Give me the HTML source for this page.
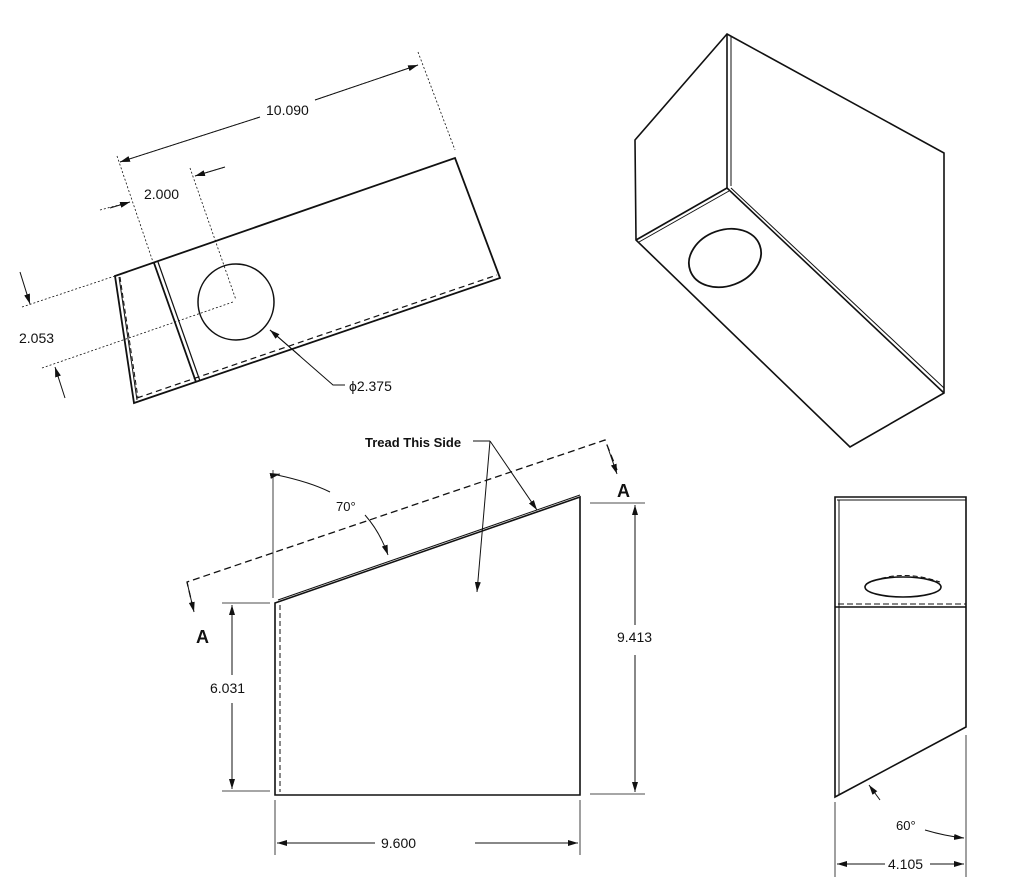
<!DOCTYPE html>
<html><head><meta charset="utf-8"><style>
html,body{margin:0;padding:0;background:#fff}
svg{display:block}
text{font-family:"Liberation Sans",sans-serif;fill:#111}
</style></head><body>
<svg width="1024" height="895" viewBox="0 0 1024 895" xmlns="http://www.w3.org/2000/svg">
<defs>
<marker id="ar" viewBox="0 0 10 6" refX="10" refY="3" markerWidth="10" markerHeight="6" orient="auto" markerUnits="userSpaceOnUse"><path d="M0,0 L10,3 L0,6z" fill="#111"/></marker>
</defs>
<g fill="none" stroke="#111">
<!-- Top-left flat view -->
<g stroke-width="1.8">
<path d="M115,276 L455,158 L500,278 L134,403 Z"/>
<line x1="154" y1="263" x2="196" y2="382"/>
<line x1="158" y1="262" x2="200" y2="381" stroke-width="1.2"/>
<line x1="119" y1="277" x2="137" y2="400" stroke-width="1"/>
</g>
<path d="M137,398 L497,275" stroke-width="1.2" stroke-dasharray="6,4"/>
<line x1="120" y1="277" x2="138" y2="398" stroke-width="1" stroke-dasharray="5,3"/>
<circle cx="236" cy="302" r="38" stroke-width="1.5"/>
<g stroke-width="0.8" stroke-dasharray="2,2">
<line x1="117" y1="156" x2="153" y2="262"/>
<line x1="418" y1="52" x2="455" y2="150"/>
<line x1="120" y1="162" x2="260" y2="117"/>
<line x1="315" y1="100" x2="418" y2="65"/>
<line x1="190" y1="168" x2="236" y2="300"/>
<line x1="100" y1="210" x2="130" y2="202"/>
<line x1="195" y1="176" x2="225" y2="167"/>
<line x1="22" y1="307" x2="115" y2="276"/>
<line x1="42" y1="368" x2="233" y2="302"/>
</g>
<g stroke-width="1">
<line x1="260" y1="117" x2="120" y2="162" marker-end="url(#ar)"/>
<line x1="315" y1="100" x2="418" y2="65" marker-end="url(#ar)"/>
<line x1="110" y1="208" x2="130" y2="202" marker-end="url(#ar)"/>
<line x1="225" y1="167" x2="195" y2="176" marker-end="url(#ar)"/>
<line x1="20" y1="272" x2="30" y2="304" marker-end="url(#ar)"/>
<line x1="65" y1="398" x2="55" y2="367" marker-end="url(#ar)"/>
<polyline points="345,385 333,385 270,330" />
<line x1="300" y1="356" x2="270" y2="330" marker-end="url(#ar)"/>
</g>
<!-- Isometric view -->
<g stroke-width="1.6">
<path d="M727,34 L944,153 L944,393 L850,447 L636,240 L635,140 Z"/>
<line x1="727" y1="34" x2="727" y2="188"/>
<line x1="731" y1="36" x2="731" y2="186" stroke-width="1"/>
<line x1="727" y1="188" x2="636" y2="240"/>
<line x1="729" y1="191" x2="639" y2="242" stroke-width="1"/>
<line x1="727" y1="188" x2="944" y2="393"/>
<line x1="731" y1="188" x2="944" y2="388" stroke-width="1"/>
<ellipse cx="725" cy="258" rx="37" ry="28" transform="rotate(-20 725 258)" stroke-width="1.8"/>
</g>
<!-- Front view -->
<g stroke-width="1.6">
<path d="M275,603 L580,497 L580,795 L275,795 Z"/>
<line x1="278" y1="600" x2="580" y2="495" stroke-width="1"/>
</g>
<line x1="280" y1="605" x2="280" y2="792" stroke-width="1" stroke-dasharray="5,3"/>
<g stroke-width="1.3" stroke-dasharray="7,4">
<polyline points="193,608 187,582 605,440 617,470"/>
</g>
<g stroke-width="1">
<line x1="187" y1="582" x2="194" y2="612" marker-end="url(#ar)"/>
<line x1="608" y1="448" x2="617" y2="474" marker-end="url(#ar)"/>
</g>
<g stroke-width="0.8">
<line x1="273" y1="470" x2="273" y2="598"/>
<line x1="275" y1="800" x2="275" y2="855"/>
<line x1="580" y1="800" x2="580" y2="855"/>
<line x1="590" y1="503" x2="645" y2="503"/>
<line x1="590" y1="794" x2="645" y2="794"/>
<line x1="222" y1="603" x2="270" y2="603"/>
<line x1="222" y1="791" x2="270" y2="791"/>
</g>
<g stroke-width="1">
<line x1="375" y1="843" x2="277" y2="843" marker-end="url(#ar)"/>
<line x1="475" y1="843" x2="578" y2="843" marker-end="url(#ar)"/>
<line x1="635" y1="625" x2="635" y2="505" marker-end="url(#ar)"/>
<line x1="635" y1="655" x2="635" y2="792" marker-end="url(#ar)"/>
<line x1="232" y1="675" x2="232" y2="605" marker-end="url(#ar)"/>
<line x1="232" y1="703" x2="232" y2="789" marker-end="url(#ar)"/>
<path d="M277,475 Q310,482 330,492" />
<path d="M365,515 Q380,532 388,555" marker-end="url(#ar)"/>
<line x1="275" y1="475" x2="280" y2="474" marker-end="url(#ar)"/>
<line x1="473" y1="441" x2="490" y2="441"/>
<line x1="490" y1="441" x2="477" y2="592" marker-end="url(#ar)"/>
<line x1="490" y1="441" x2="537" y2="510" marker-end="url(#ar)"/>
</g>
<!-- Side view -->
<g stroke-width="1.6">
<path d="M835,497 L966,497 L966,727 L835,797 Z"/>
<line x1="839" y1="500" x2="839" y2="795" stroke-width="1"/>
<line x1="837" y1="500" x2="966" y2="500" stroke-width="1"/>
<line x1="835" y1="607" x2="966" y2="607"/>
<ellipse cx="903" cy="587" rx="38" ry="10"/>
</g>
<line x1="838" y1="604" x2="966" y2="604" stroke-width="1" stroke-dasharray="6,3"/>
<path d="M866,584 Q900,568 940,582" stroke-width="1" stroke-dasharray="5,3"/>
<g stroke-width="0.8">
<line x1="835" y1="802" x2="835" y2="877"/>
<line x1="966" y1="735" x2="966" y2="877"/>
</g>
<g stroke-width="1">
<line x1="885" y1="864" x2="837" y2="864" marker-end="url(#ar)"/>
<line x1="930" y1="864" x2="964" y2="864" marker-end="url(#ar)"/>
<path d="M925,830 Q945,836 964,838" marker-end="url(#ar)"/>
<line x1="880" y1="800" x2="869" y2="785" marker-end="url(#ar)"/>
</g>
</g>
<g font-size="14">
<text x="266" y="115">10.090</text>
<text x="144" y="199">2.000</text>
<text x="19" y="343">2.053</text>
<text x="349" y="391">ϕ2.375</text>
<text x="336" y="511" font-size="13">70°</text>
<text x="365" y="447" font-size="13" font-weight="bold">Tread This Side</text>
<text x="196" y="643" font-size="18" font-weight="bold">A</text>
<text x="617" y="497" font-size="18" font-weight="bold">A</text>
<text x="617" y="642">9.413</text>
<text x="210" y="693">6.031</text>
<text x="381" y="848">9.600</text>
<text x="896" y="830" font-size="13">60°</text>
<text x="888" y="869">4.105</text>
</g>
</svg>
</body></html>
